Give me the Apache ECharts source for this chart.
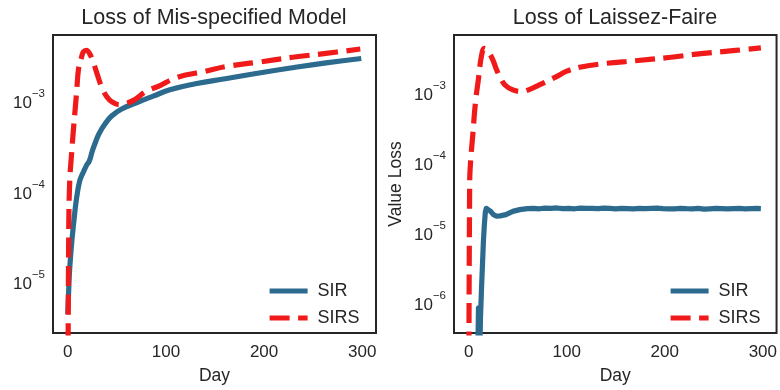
<!DOCTYPE html>
<html><head><meta charset="utf-8">
<script src="https://cdn.jsdelivr.net/npm/echarts@6/dist/echarts.min.js"></script>
<style>html,body{margin:0;padding:0;background:#fff}#c{width:780px;height:390px}</style>
</head><body><div id="c"></div>
<script>
// ---- text ----
const panelTitles = ['Loss of Mis-specified Model', 'Loss of Laissez-Faire'];
const seriesNames = ['SIR', 'SIRS'];
const xAxisName = 'Day';
const yAxisNameRight = 'Value Loss';
const xTickValues = [0, 100, 200, 300];

// ---- Left panel: Loss of Mis-specified Model ----
const misSirDays = [0, 1, 2, 4, 6, 8, 10, 12, 14, 16, 19, 22, 25, 28, 32, 38, 45, 55, 70, 87, 104, 130, 162, 195, 229, 263, 299];
const misSirVals = [3.8e-6, 7e-6, 1.2e-5, 2.3e-5, 3.8e-5, 6e-5, 8.5e-5, 1.1e-4, 1.27e-4, 1.41e-4, 1.66e-4, 1.87e-4, 2.4e-4, 2.95e-4, 3.76e-4, 4.8e-4, 5.9e-4, 7.0e-4, 8.2e-4, 9.7e-4, 1.14e-3, 1.33e-3, 1.52e-3, 1.75e-3, 2.0e-3, 2.26e-3, 2.53e-3];
const misSirsDays = [0, 1, 2, 4, 6, 9, 11, 14, 16, 19, 22, 26, 30, 35, 40, 45, 53, 60, 68, 80, 94, 107, 120, 137, 162, 195, 229, 263, 298];
const misSirsVals = [1e-7, 3e-5, 1.1e-4, 2.3e-4, 4.4e-4, 1.05e-3, 1.94e-3, 2.6e-3, 3.0e-3, 3.12e-3, 2.9e-3, 2.31e-3, 1.7e-3, 1.19e-3, 9.5e-4, 8.4e-4, 7.8e-4, 8.1e-4, 8.85e-4, 1.1e-3, 1.27e-3, 1.5e-3, 1.66e-3, 1.8e-3, 2.07e-3, 2.31e-3, 2.61e-3, 2.88e-3, 3.22e-3];

// ---- Right panel: Loss of Laissez-Faire ----
const lfSirDays = [9, 10, 11, 12, 13, 14, 15, 16, 17, 18, 19, 22, 25, 28, 32, 38, 45, 52, 60, 66, 72, 78, 84, 90, 96, 102, 108, 114, 120, 126, 132, 138, 144, 150, 156, 162, 168, 174, 180, 186, 192, 198, 204, 210, 216, 222, 228, 234, 240, 246, 252, 258, 264, 270, 276, 282, 288, 294, 298];
const lfSirVals = [1e-7, 7e-7, 1e-7, 5e-7, 1.26e-6, 2.8e-6, 6.3e-6, 1.1e-5, 1.66e-5, 1.86e-5, 1.9e-5, 1.7e-5, 1.52e-5, 1.44e-5, 1.45e-5, 1.51e-5, 1.68e-5, 1.78e-5, 1.84e-5, 1.86e-5, 1.83e-5, 1.87e-5, 1.85e-5, 1.88e-5, 1.84e-5, 1.86e-5, 1.83e-5, 1.87e-5, 1.85e-5, 1.86e-5, 1.84e-5, 1.87e-5, 1.85e-5, 1.83e-5, 1.86e-5, 1.84e-5, 1.82e-5, 1.85e-5, 1.84e-5, 1.86e-5, 1.87e-5, 1.84e-5, 1.82e-5, 1.83e-5, 1.86e-5, 1.84e-5, 1.83e-5, 1.85e-5, 1.81e-5, 1.83e-5, 1.85e-5, 1.84e-5, 1.82e-5, 1.84e-5, 1.85e-5, 1.83e-5, 1.84e-5, 1.85e-5, 1.84e-5];
const lfSirsDays = [0, 1, 2, 4, 7, 10, 13, 16, 19, 22, 25, 28, 32, 37, 45, 54, 61, 72, 89, 100, 113, 125, 140, 170, 204, 237, 272, 298];
const lfSirsVals = [1e-8, 4.4e-5, 9e-5, 1.96e-4, 6.3e-4, 1.33e-3, 2.8e-3, 3.6e-3, 3.4e-3, 2.95e-3, 2.4e-3, 1.84e-3, 1.4e-3, 1.08e-3, 9.2e-4, 8.7e-4, 9.2e-4, 1.08e-3, 1.41e-3, 1.7e-3, 1.93e-3, 2.07e-3, 2.2e-3, 2.4e-3, 2.67e-3, 3.03e-3, 3.37e-3, 3.67e-3];

const pairs = (d, v) => d.map((x, i) => [x, v[i]]);

const TXT = '#262626';
const FONT = "'Liberation Sans', Arial, sans-serif";
const BLUE = '#2c6a8e';
const RED = '#f01a1a';

function expLabel(v) {
  const e = Math.log10(v);
  const r = Math.round(e);
  if (Math.abs(e - r) > 1e-6) return '';
  return '{b|10}{s|' + (r < 0 ? '\u2212' : '') + Math.abs(r) + '}';
}
function xLabel(v) {
  return xTickValues.indexOf(Math.round(v)) >= 0 && Math.abs(v - Math.round(v)) < 1e-6 ? String(Math.round(v)) : '';
}

function xAxis(idx) {
  return {
    type: 'value', gridIndex: idx, min: -15, max: 314, splitNumber: 3,
    name: xAxisName, nameLocation: 'middle', nameGap: 34,
    nameTextStyle: { fontSize: 17.5, color: TXT, fontFamily: FONT },
    axisLine: { show: false }, axisTick: { show: false }, splitLine: { show: false },
    axisLabel: { formatter: xLabel, fontSize: 17, color: TXT, fontFamily: FONT, margin: 11,
                 showMinLabel: false, showMaxLabel: false }
  };
}
function yAxis(idx, mn, mx, name) {
  const ax = {
    type: 'log', logBase: 10, gridIndex: idx, min: mn, max: mx,
    axisLine: { show: false }, axisTick: { show: false }, splitLine: { show: false },
    axisLabel: {
      formatter: expLabel, margin: 8, showMinLabel: false, showMaxLabel: false,
      padding: [10, 0, 0, 0],
      rich: {
        b: { fontSize: 17, color: TXT, fontFamily: FONT, lineHeight: 24, verticalAlign: 'bottom' },
        s: { fontSize: 11.5, color: TXT, fontFamily: FONT, lineHeight: 12, verticalAlign: 'top' }
      }
    }
  };
  if (name) {
    ax.name = name; ax.nameLocation = 'middle'; ax.nameGap = 49;
    ax.nameTextStyle = { fontSize: 17.5, color: TXT, fontFamily: FONT };
  }
  return ax;
}
function line(name, idx, data, color, dashed, smooth) {
  return {
    name, type: 'line', xAxisIndex: idx, yAxisIndex: idx, data,
    symbol: 'none', showSymbol: false, smooth: smooth,
    clip: true, animation: false,
    lineStyle: { color, width: 5.2, type: dashed ? [20, 8.5] : 'solid', cap: 'butt', join: 'round' },
    itemStyle: { color }
  };
}
function legend(left) {
  return {
    orient: 'vertical', left, top: 282, padding: 0, itemWidth: 38, itemHeight: 14, itemGap: 9,
    data: seriesNames, selectedMode: false,
    lineStyle: { width: 5.2 },
    itemStyle: { opacity: 0, borderWidth: 0 },
    textStyle: { fontSize: 18, color: TXT, fontFamily: FONT, padding: [0, 0, 0, 5] }
  };
}

const chart = echarts.init(document.getElementById('c'), null, { renderer: 'canvas' });
chart.setOption({
  backgroundColor: '#fff',
  animation: false,
  title: [
    { text: panelTitles[0], left: 214, top: 7, textAlign: 'center', padding: 0,
      textStyle: { fontSize: 21.5, fontWeight: 'normal', color: TXT, fontFamily: FONT } },
    { text: panelTitles[1], left: 615, top: 7, textAlign: 'center', padding: 0,
      textStyle: { fontSize: 21.5, fontWeight: 'normal', color: TXT, fontFamily: FONT } }
  ],
  legend: [legend(267), legend(668)],
  grid: [
    { left: 53, top: 35, width: 323, height: 308, show: true, borderColor: TXT, borderWidth: 2, backgroundColor: 'transparent' },
    { left: 454, top: 35, width: 323, height: 307, show: true, borderColor: TXT, borderWidth: 2, backgroundColor: 'transparent' }
  ],
  xAxis: [xAxis(0), xAxis(1)],
  yAxis: [yAxis(0, 2.35e-6, 4.6e-3, null), yAxis(1, 3.06e-7, 5.6e-3, yAxisNameRight)],
  series: [
    line(seriesNames[0], 0, pairs(misSirDays, misSirVals), BLUE, false, 0.5),
    line(seriesNames[1], 0, pairs(misSirsDays, misSirsVals), RED, true, 0.4),
    line(seriesNames[0], 1, pairs(lfSirDays, lfSirVals), BLUE, false, false),
    line(seriesNames[1], 1, pairs(lfSirsDays, lfSirsVals), RED, true, 0.4)
  ]
});
</script></body></html>
